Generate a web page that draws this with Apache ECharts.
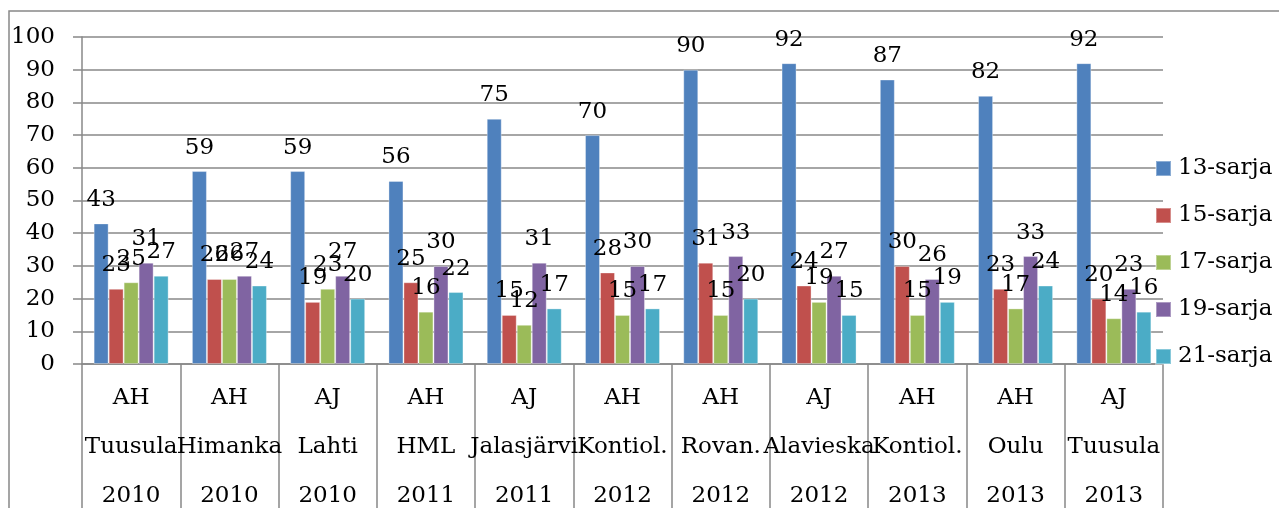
<!DOCTYPE html>
<html>
<head>
<meta charset="utf-8">
<script src="https://cdn.jsdelivr.net/npm/echarts@6/dist/echarts.min.js"></script>
<style>
  html, body { margin: 0; padding: 0; background: #fff; }
  #chart { width: 1279px; height: 508px; }
</style>
</head>
<body>
<div id="chart"></div>
<script>
// kilpailut (kategoriat), kolme riviä per kategoria
var categories = [
  'AH\nTuusula\n2010', 'AH\nHimanka\n2010', 'AJ\nLahti\n2010', 'AH\nHML\n2011',
  'AJ\nJalasjärvi\n2011', 'AH\nKontiol.\n2012', 'AH\nRovan.\n2012', 'AJ\nAlavieska\n2012',
  'AH\nKontiol.\n2013', 'AH\nOulu\n2013', 'AJ\nTuusula\n2013'
];
var seriesNames = ['13-sarja', '15-sarja', '17-sarja', '19-sarja', '21-sarja'];
var sarja13 = [43, 59, 59, 56, 75, 70, 90, 92, 87, 82, 92];
var sarja15 = [23, 26, 19, 25, 15, 28, 31, 24, 30, 23, 20];
var sarja17 = [25, 26, 23, 16, 12, 15, 15, 19, 15, 17, 14];
var sarja19 = [31, 27, 27, 30, 31, 30, 33, 27, 26, 33, 23];
var sarja21 = [27, 24, 20, 22, 17, 17, 20, 15, 19, 24, 16];
var colors = ['#4F81BD', '#C0504D', '#9BBB59', '#8064A2', '#4BACC6'];

var font = 'DejaVu Serif';
var fs = 23;
var allData = [sarja13, sarja15, sarja17, sarja19, sarja21];

var chart = echarts.init(document.getElementById('chart'));

var series = allData.map(function (d, i) {
  return {
    name: seriesNames[i],
    type: 'bar',
    data: d,
    barWidth: 15,
    barGap: 0,
    itemStyle: { color: colors[i], borderColor: 'rgba(255,255,255,0.35)', borderWidth: 1 },
    label: {
      show: true,
      position: 'top',
      distance: 12,
      color: '#000',
      fontFamily: font,
      fontSize: fs
    }
  };
});

chart.setOption({
  animation: false,
  backgroundColor: '#fff',
  color: colors,
  graphic: [{
    type: 'rect',
    shape: { x: 9, y: 11, width: 1400, height: 600 },
    style: { fill: 'none', stroke: '#888', lineWidth: 1.5 },
    silent: true
  }],
  grid: { left: 82, top: 37, right: 116, bottom: 144, outerBoundsMode: 'none', containLabel: false },
  legend: {
    orient: 'vertical',
    left: 1150,
    top: 152,
    itemWidth: 15,
    itemHeight: 15,
    itemGap: 24,
    icon: 'rect',
    textStyle: { fontFamily: font, fontSize: fs, color: '#000', padding: [0, 0, 0, 2] },
    data: seriesNames
  },
  xAxis: {
    type: 'category',
    data: categories,
    axisLine: { lineStyle: { color: '#888', width: 1.5 } },
    axisTick: { show: true, length: 150, lineStyle: { color: '#888', width: 1.5 } },
    axisLabel: {
      interval: 0,
      margin: 10,
      color: '#000',
      fontFamily: font,
      fontSize: fs,
      lineHeight: 49
    }
  },
  yAxis: {
    type: 'value',
    min: 0,
    max: 100,
    interval: 10,
    axisLine: { show: true, lineStyle: { color: '#888', width: 1.5 } },
    axisTick: { show: true, length: 9, lineStyle: { color: '#888', width: 1.5 } },
    splitLine: { lineStyle: { color: '#888', width: 1.5 } },
    axisLabel: { margin: 27, color: '#000', fontFamily: font, fontSize: fs }
  },
  series: series
});
</script>
</body>
</html>
